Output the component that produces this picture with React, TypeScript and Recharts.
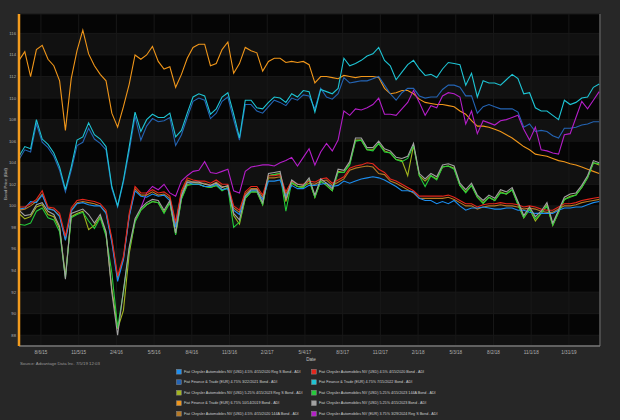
import { LineChart, Line, XAxis, YAxis, CartesianGrid, ReferenceLine } from 'recharts';

const DAY = 86400000;
const START = Date.UTC(2015, 5, 14);
const STEP_DAYS = 14;

const TICK_LABELS = [
  '8/6/15', '11/5/15', '2/4/16', '5/5/16', '8/4/16', '11/3/16', '2/2/17', '5/4/17',
  '8/3/17', '11/2/17', '2/1/18', '5/3/18', '8/2/18', '11/1/18', '1/31/19',
];
const Y_TICKS = [88, 90, 92, 94, 96, 98, 100, 102, 104, 106, 108, 110, 112, 114, 116];

const BLUE = [
  99.7, 99.8, 100.4, 100.3, 101.0, 99.7, 99.6, 99.0, 96.8, 99.5, 100.2, 100.3, 100.1, 100.0, 100.0, 99.3, 96.6, 93.0, 95.0, 99.0, 101.4, 100.9, 100.8, 101.1, 100.9, 101.0,
  100.5, 98.0, 101.0, 102.2, 102.0, 102.0, 101.8, 101.8, 102.0, 101.5, 101.6, 99.6, 99.2, 100.9, 101.4, 101.4, 100.6, 102.3, 102.3, 102.4, 100.9, 101.9, 101.6, 101.6, 101.9,
  101.9, 102.0, 102.1, 101.8, 101.9, 102.3, 102.1, 102.3, 102.5, 102.6, 102.7, 102.6, 102.4, 102.1, 101.8, 101.4, 101.4, 101.3, 100.7, 100.5, 100.5, 100.2, 100.4, 100.2,
  100.5, 100.0, 99.6, 99.8, 99.8, 99.9, 99.8, 99.7, 99.7, 99.8, 99.8, 99.6, 99.6, 99.4, 99.3, 99.3, 99.3, 99.3, 99.6, 99.8, 99.8, 99.9, 99.9, 100.1, 100.3, 100.4,
];
const RED = [
  99.9, 99.9, 100.2, 100.6, 101.4, 99.9, 99.8, 99.3, 97.2, 99.8, 100.5, 100.6, 100.5, 100.4, 100.2, 99.6, 97.0, 93.5, 95.3, 99.3, 101.8, 101.2, 101.2, 101.5, 101.2, 101.3,
  100.9, 98.5, 101.4, 102.6, 102.4, 102.3, 102.3, 102.1, 102.4, 102.0, 102.0, 100.0, 99.6, 101.3, 101.8, 101.8, 101.0, 102.8, 102.8, 102.9, 101.3, 102.3, 102.0, 102.0, 102.3,
  102.2, 102.5, 102.6, 102.1, 102.4, 102.7, 103.5, 103.7, 103.8, 104.0, 103.9, 103.4, 103.1, 102.5, 102.3, 102.0, 101.7, 101.4, 100.9, 100.9, 100.9, 100.9, 100.9, 101.0,
  100.8, 100.5, 100.2, 100.2, 99.9, 100.1, 100.2, 100.2, 100.3, 100.2, 100.2, 100.1, 99.9, 100.0, 99.9, 99.7, 99.6, 99.6, 99.9, 100.2, 100.2, 100.3, 100.5, 100.6, 100.7, 100.8,
];
const NAVY = [
  104.3, 105.2, 105.0, 107.6, 105.9, 105.4, 104.6, 103.3, 101.3, 103.3, 105.6, 105.9, 107.2, 106.2, 105.8, 105.2, 101.6, 99.9, 102.2, 105.1, 108.3, 106.1, 107.4, 108.1, 107.8, 107.9,
  108.2, 105.6, 106.6, 108.2, 109.7, 110.0, 109.8, 108.1, 108.6, 109.7, 110.1, 108.0, 106.1, 109.4, 109.4, 108.8, 108.6, 109.2, 109.8, 109.6, 109.3, 110.0, 109.8, 110.3, 110.2,
  109.0, 110.9, 110.1, 109.9, 110.4, 111.9, 111.4, 111.5, 111.6, 111.6, 111.8, 112.0, 111.2, 110.4, 109.8, 110.5, 110.9, 110.9, 110.2, 110.0, 110.1, 110.1, 110.8, 111.2,
  111.2, 111.0, 110.2, 110.2, 108.6, 109.2, 109.4, 109.2, 109.0, 109.0, 109.0, 108.7, 107.3, 107.6, 106.9, 107.0, 106.9, 106.5, 106.3, 107.2, 107.2, 107.3, 107.5, 107.6, 107.8, 107.8,
];
const CYAN = [
  104.6, 105.5, 105.3, 108.0, 106.2, 105.7, 104.9, 103.6, 101.5, 103.6, 106.1, 106.4, 107.7, 106.6, 106.2, 105.5, 101.8, 100.0, 102.4, 105.5, 108.7, 106.9, 108.0, 108.5, 108.2, 108.2,
  108.6, 106.4, 107.0, 108.6, 110.1, 110.4, 110.2, 108.5, 109.0, 110.1, 110.5, 108.5, 106.3, 109.8, 109.8, 109.1, 109.0, 109.6, 110.1, 110.0, 109.6, 110.4, 110.1, 110.7, 110.6,
  108.7, 110.8, 110.6, 110.4, 110.9, 113.7, 113.0, 113.2, 113.5, 113.9, 114.1, 114.7, 113.5, 113.0, 111.7, 112.4, 113.1, 113.5, 112.7, 112.1, 112.2, 111.9, 112.7, 113.3,
  113.2, 113.1, 111.2, 112.3, 110.1, 111.6, 111.4, 111.4, 111.2, 111.7, 112.2, 111.8, 110.4, 110.5, 109.1, 108.8, 108.8, 108.4, 108.0, 109.8, 109.4, 109.6, 110.0, 110.1, 111.0, 111.3,
];
const OLIVE = [
  99.3, 98.8, 99.0, 99.9, 100.1, 99.2, 99.0, 97.9, 93.5, 99.0, 99.3, 99.5, 97.8, 98.2, 99.0, 97.4, 92.3, 88.6, 90.3, 95.6, 98.6, 99.6, 100.1, 100.4, 100.3, 99.4,
  100.3, 97.4, 100.7, 102.0, 102.0, 102.0, 101.8, 101.7, 101.9, 101.5, 101.7, 99.1, 98.3, 100.7, 101.3, 101.3, 100.1, 102.8, 102.9, 103.0, 100.4, 102.2, 101.8, 101.7, 102.4,
  100.8, 102.3, 101.9, 101.4, 103.2, 103.1, 103.9, 106.1, 106.1, 105.2, 105.2, 105.8, 105.1, 104.9, 104.3, 104.2, 102.8, 105.6, 102.8, 102.3, 102.8, 102.5, 103.6, 103.7,
  103.5, 101.9, 101.3, 101.9, 100.8, 100.3, 100.8, 100.5, 101.3, 101.1, 101.5, 100.2, 98.9, 99.7, 98.6, 99.3, 100.1, 98.2, 99.4, 100.6, 100.9, 101.0, 101.7, 102.6, 104.0, 103.8,
];
const GREEN = [
  98.3, 98.2, 98.4, 99.5, 99.8, 98.9, 98.7, 97.6, 93.3, 98.9, 99.2, 99.4, 98.6, 97.9, 98.9, 97.2, 93.8, 88.7, 92.0, 96.0, 98.5, 99.6, 100.1, 100.4, 100.3, 99.3,
  100.3, 97.3, 100.6, 101.9, 102.0, 102.0, 101.8, 101.7, 101.9, 101.4, 101.7, 98.0, 98.5, 100.7, 101.3, 101.3, 100.1, 102.8, 102.9, 103.0, 99.5, 102.2, 101.8, 101.7, 102.4,
  100.8, 102.3, 101.9, 101.4, 103.1, 103.1, 103.8, 106.0, 106.1, 105.2, 105.1, 105.8, 105.0, 104.9, 104.3, 104.1, 104.4, 105.6, 102.8, 101.8, 102.8, 102.4, 103.6, 103.7,
  103.4, 101.9, 101.2, 101.9, 100.8, 100.2, 100.8, 100.5, 101.2, 101.1, 101.5, 100.1, 98.9, 99.7, 98.8, 99.3, 100.0, 98.2, 99.4, 100.6, 100.8, 101.0, 101.7, 102.6, 104.0, 103.9,
];
const ORANGE = [
  113.5, 114.3, 112.0, 114.5, 114.9, 113.6, 113.0, 111.6, 107.0, 111.8, 114.4, 116.3, 114.1, 113.0, 112.2, 111.6, 108.6, 107.3, 109.2, 111.3, 114.0, 113.6, 114.0, 114.8, 113.4, 112.7,
  112.9, 111.0, 112.2, 113.7, 114.7, 115.0, 115.0, 113.0, 113.2, 114.5, 115.2, 112.3, 113.2, 114.7, 114.4, 114.2, 112.5, 113.4, 113.7, 113.7, 113.3, 113.4, 113.3, 113.4, 113.1,
  111.4, 112.0, 112.0, 111.9, 111.8, 112.1, 112.0, 111.9, 112.0, 112.0, 112.0, 111.9, 110.9, 110.4, 110.5, 110.7, 110.7, 110.4, 109.9, 109.6, 109.5, 109.4, 109.4, 109.3,
  109.2, 108.8, 108.5, 107.9, 107.4, 107.4, 107.3, 107.1, 106.9, 106.6, 106.3, 105.9, 105.5, 105.2, 104.8, 104.7, 104.6, 104.4, 104.2, 104.1, 103.9, 103.8, 103.6, 103.4, 103.2, 103.0,
];
const GRAY = [
  99.6, 99.1, 99.2, 100.1, 100.3, 99.5, 99.2, 98.1, 93.2, 99.3, 99.5, 99.7, 99.2, 98.4, 99.2, 97.6, 92.0, 88.0, 92.2, 96.2, 98.8, 99.8, 100.3, 100.6, 100.5, 99.6,
  100.5, 97.5, 100.9, 102.2, 102.2, 102.2, 102.0, 101.9, 102.1, 101.7, 101.9, 99.3, 98.7, 100.9, 101.5, 101.5, 100.3, 103.0, 103.1, 103.2, 100.6, 102.4, 102.0, 101.9, 102.6,
  101.0, 102.5, 102.1, 101.6, 103.4, 103.3, 104.1, 106.3, 106.3, 105.4, 105.4, 106.0, 105.3, 105.1, 104.5, 104.4, 104.6, 105.8, 103.0, 102.5, 103.0, 102.7, 103.8, 103.9,
  103.7, 102.1, 101.5, 102.1, 101.0, 100.5, 101.0, 100.7, 101.5, 101.3, 101.7, 100.4, 99.1, 99.9, 99.0, 99.5, 100.3, 98.4, 99.6, 100.8, 101.1, 101.2, 101.9, 102.8, 104.2, 104.0,
];
const BROWN = [
  99.6, 99.7, 100.0, 100.4, 101.1, 99.8, 99.6, 99.1, 96.9, 99.6, 100.3, 100.4, 100.3, 100.2, 100.0, 99.4, 96.8, 93.3, 95.1, 99.1, 101.6, 101.0, 101.0, 101.3, 101.0, 101.1,
  100.7, 98.3, 101.2, 102.4, 102.2, 102.1, 102.1, 101.9, 102.2, 101.8, 101.8, 99.8, 99.4, 101.1, 101.6, 101.6, 100.8, 102.6, 102.6, 102.7, 101.1, 102.1, 101.8, 101.8, 102.1,
  102.0, 102.3, 102.4, 101.9, 102.2, 102.5, 103.3, 103.5, 103.6, 103.7, 103.6, 103.0, 102.9, 102.3, 102.1, 101.8, 101.5, 101.2, 100.7, 100.7, 100.7, 100.7, 100.7, 100.8,
  100.6, 100.3, 100.0, 100.0, 99.7, 99.9, 100.0, 100.0, 100.1, 100.0, 100.0, 99.9, 99.7, 99.8, 99.7, 99.5, 99.4, 99.4, 99.7, 100.0, 100.0, 100.1, 100.3, 100.4, 100.5, 100.6,
];
const MAGENTA = [
  null, null, null, null, null, null, null, null, null, null, null, null, null, null, null, null, null, null, null, null, null, 99.8, 101.2, 101.8, 101.5, 102.0,
  101.2, 100.9, 102.3, 102.8, 103.2, 103.3, 104.1, 103.1, 103.0, 103.2, 103.4, 101.4, 101.2, 103.2, 103.6, 103.7, 103.8, 103.8, 103.7, 104.0, 104.2, 104.5, 103.7, 104.5, 105.3,
  103.8, 105.0, 105.8, 105.1, 106.1, 108.8, 108.4, 109.0, 108.9, 109.1, 109.4, 110.0, 108.5, 108.5, 108.4, 109.0, 109.6, 110.7, 109.6, 108.4, 109.3, 109.1, 110.2, 110.5,
  110.4, 110.1, 107.6, 108.8, 106.7, 107.9, 107.7, 107.5, 107.9, 108.0, 108.2, 108.4, 107.1, 106.1, 107.3, 105.2, 105.1, 104.9, 104.8, 106.6, 106.7, 108.2, 109.7, 109.0, 109.8, 110.6,
];

// legend order (two columns, row by row)
const SERIES = [
  { key: 'blue', name: 'Fiat Chrysler Automobiles NV (USD) 4.5% 4/15/2020 Reg S Bond - ADI', color: '#1c8ef0', values: BLUE },
  { key: 'red', name: 'Fiat Chrysler Automobiles NV (USD) 4.5% 4/15/2020 Bond - ADI', color: '#e5261c', values: RED },
  { key: 'navy', name: 'Fiat Finance & Trade (EUR) 4.75% 3/22/2021 Bond - ADI', color: '#2464b4', values: NAVY },
  { key: 'cyan', name: 'Fiat Finance & Trade (EUR) 4.75% 7/15/2022 Bond - ADI', color: '#1ec4d4', values: CYAN },
  { key: 'olive', name: 'Fiat Chrysler Automobiles NV (USD) 5.25% 4/15/2023 Reg S Bond - ADI', color: '#a3b51e', values: OLIVE },
  { key: 'green', name: 'Fiat Chrysler Automobiles NV (USD) 5.25% 4/15/2023 144A Bond - ADI', color: '#24cc3a', values: GREEN },
  { key: 'orange', name: 'Fiat Finance & Trade (EUR) 6.75% 10/14/2019 Bond - ADI', color: '#f0961a', values: ORANGE },
  { key: 'gray', name: 'Fiat Chrysler Automobiles NV (USD) 5.25% 4/15/2023 Bond - ADI', color: '#a2a2a2', values: GRAY },
  { key: 'brown', name: 'Fiat Chrysler Automobiles NV (USD) 4.5% 4/15/2020 144A Bond - ADI', color: '#b87a24', values: BROWN },
  { key: 'magenta', name: 'Fiat Chrysler Automobiles NV (EUR) 3.75% 3/29/2024 Reg S Bond - ADI', color: '#b41ec8', values: MAGENTA },
];

// drawing order, back to front
const DRAW_ORDER = ['orange', 'navy', 'cyan', 'magenta', 'brown', 'olive', 'green', 'blue', 'red', 'gray'];

const toTime = (label: string) => {
  const [m, d, y] = label.split('/').map(Number);
  return Date.UTC(2000 + y, m - 1, d);
};
const X_TICKS = TICK_LABELS.map(toTime);
const X_MIN = START;
const X_MAX = START + 1402 * DAY;

const data = GRAY.map((_, i) => {
  const row: Record<string, number | null> = { date: START + i * STEP_DAYS * DAY };
  SERIES.forEach((s) => {
    row[s.key] = s.values[i];
  });
  return row;
});

const fmtDate = (t: number) => {
  const d = new Date(t);
  return `${d.getUTCMonth() + 1}/${d.getUTCDate()}/${String(d.getUTCFullYear()).slice(2)}`;
};

const FONT = '"Liberation Sans", Arial, sans-serif';

export default function App() {
  const byKey = Object.fromEntries(SERIES.map((s) => [s.key, s]));
  return (
    <div style={{ position: 'fixed', left: 0, top: 0, width: 620, height: 420, background: '#272727', overflow: 'hidden' }}>
      <LineChart width={620} height={360} data={data} margin={{ top: 14, right: 20, bottom: 0, left: 0 }}>
        <CartesianGrid
          stroke="#181818"
          horizontalFill={['#050505', '#111111']}
          fill="#050505"
        />
        <XAxis
          dataKey="date"
          type="number"
          domain={[X_MIN, X_MAX]}
          ticks={X_TICKS}
          interval={0}
          tickFormatter={fmtDate}
          height={14}
          tickLine={false}
          tickSize={0}
          tickMargin={5}
          axisLine={{ stroke: '#7a7a7a', strokeWidth: 1.5 }}
          tick={{ fill: '#b0b0b0', fontSize: 4.6, fontFamily: FONT }}
          allowDataOverflow
        />
        <YAxis
          type="number"
          domain={[87, 117.8]}
          ticks={Y_TICKS}
          interval={0}
          width={19}
          tickLine={false}
          tickSize={0}
          tickMargin={3}
          axisLine={{ stroke: '#f39c1e', strokeWidth: 2.5 }}
          tick={{ fill: '#b0b0b0', fontSize: 4.2, fontFamily: FONT }}
          allowDataOverflow
        />
        <ReferenceLine x={X_MAX} stroke="#5a5a5a" strokeWidth={1.5} />
        {DRAW_ORDER.map((k) => (
          <Line
            key={k}
            type="linear"
            dataKey={k}
            name={byKey[k].name}
            stroke={byKey[k].color}
            strokeWidth={1.1}
            dot={false}
            isAnimationActive={false}
          />
        ))}
      </LineChart>
      <svg width={620} height={420} style={{ position: 'absolute', left: 0, top: 0, pointerEvents: 'none' }}>
        <text
          x={5}
          y={184}
          transform="rotate(-90 5 184)"
          textAnchor="middle"
          dominantBaseline="central"
          fill="#b8b8b8"
          fontSize={4.4}
          fontFamily={FONT}
        >
          Bond Price (Bid)
        </text>
        <text x={311} y={359} textAnchor="middle" dominantBaseline="central" fill="#c0c0c0" fontSize={4.6} fontFamily={FONT}>
          Date
        </text>
        <text x={20} y={363.5} dominantBaseline="central" fill="#9a9a9a" fontSize={4.3} fontFamily={FONT}>
          Source: Advantage Data Inc. 7/5/19 12:03
        </text>
        {SERIES.map((s, i) => {
          const col = i % 2;
          const row = Math.floor(i / 2);
          const sx = col === 0 ? 176.5 : 311.5;
          const cy = 371.7 + row * 10.5;
          return (
            <g key={s.key}>
              <rect x={sx} y={cy - 2.4} width={4.8} height={4.8} fill={s.color} stroke="#8a8a8a" strokeWidth={0.5} />
              <text x={sx + 7.5} y={cy} dominantBaseline="central" fill="#cfcfcf" fontSize={3.7} fontFamily={FONT}>
                {s.name}
              </text>
            </g>
          );
        })}
      </svg>
    </div>
  );
}
